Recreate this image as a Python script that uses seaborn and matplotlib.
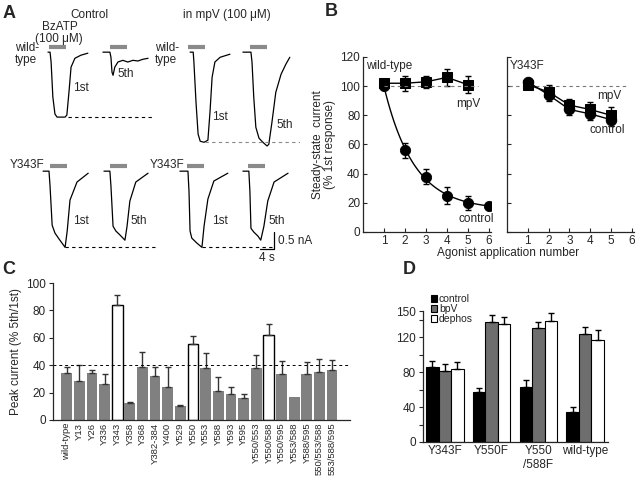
import numpy as np
import pandas as pd
import matplotlib
matplotlib.use("Agg")
import matplotlib.pyplot as plt
import seaborn as sns

# ---------------- data ----------------
# A: current traces, time (s) and current (nA) relative to trace start / baseline
wt_ctl_1st_t = [0, 0.6, 0.9, 1.4, 2.0, 2.6, 4.9, 5.4, 6.0, 6.6, 7.7, 9.4, 11.4]
wt_ctl_1st_i = [0, 0, -0.29, -1.32, -1.82, -1.91, -1.91, -1.85, -1.18, -0.44, -0.18, -0.09, -0.03]
wt_ctl_5th_t = [0, 2.0, 2.3, 2.6, 2.9, 3.4, 4.3, 5.7, 7.1, 8.6, 10.0, 11.4, 12.9]
wt_ctl_5th_i = [0, 0, -0.15, -0.59, -0.68, -0.44, -0.29, -0.24, -0.29, -0.24, -0.26, -0.21, -0.18]
wt_mpv_1st_t = [0, 0.9, 1.1, 1.7, 2.3, 2.9, 4.0, 5.1, 5.7, 6.3, 7.1, 8.6, 11.4]
wt_mpv_1st_i = [0, 0, -0.29, -1.47, -2.41, -2.62, -2.65, -2.59, -1.76, -0.74, -0.29, -0.15, -0.06]
wt_mpv_5th_t = [0, 2.3, 2.6, 3.1, 3.7, 4.6, 5.7, 6.9, 7.4, 8.3, 9.4, 10.9, 12.3, 13.4]
wt_mpv_5th_i = [0, 0, -0.29, -1.32, -2.21, -2.53, -2.65, -2.76, -2.71, -2.06, -1.18, -0.65, -0.35, -0.15]
y343_ctl_1st_t = [0, 1.7, 2.0, 2.6, 3.4, 4.6, 6.3, 6.9, 7.7, 9.7, 12.9]
y343_ctl_1st_i = [0, 0, -0.44, -1.59, -1.82, -2.0, -2.24, -1.76, -0.85, -0.32, -0.06]
y343_ctl_5th_t = [0, 1.7, 2.0, 2.6, 3.4, 4.6, 6.0, 6.6, 7.4, 9.1, 12.6]
y343_ctl_5th_i = [0, 0, -0.44, -1.62, -1.76, -1.88, -2.03, -1.62, -0.88, -0.32, -0.06]
y343_mpv_1st_t = [0, 2.3, 2.6, 2.9, 3.4, 4.9, 6.3, 6.9, 8.0, 9.7, 13.7]
y343_mpv_1st_i = [0, 0, -0.59, -1.76, -1.97, -2.12, -2.24, -1.62, -0.82, -0.29, -0.06]
y343_mpv_5th_t = [0, 1.7, 2.0, 2.3, 3.1, 4.3, 5.1, 6.0, 7.1, 8.9, 12.9]
y343_mpv_5th_i = [0, 0, -0.59, -1.68, -1.79, -1.91, -2.03, -1.62, -0.88, -0.32, -0.06]
agonist_on = [0.3, 2.0, -0.6, 2.0, 2.0, 1.7, 2.0, 1.4]   # s, per trace
agonist_dur = 4.9

# B: steady-state current (% 1st response)
app_num = [1, 2, 3, 4, 5, 6]
wt_mpv = [102, 102, 103, 106, 101]
wt_mpv_err = [3, 5, 4, 6, 6]
wt_ctl = [100, 56, 38, 25, 20, 18]
wt_ctl_err = [2, 5, 5, 6, 5, 1]
y343_mpv = [101, 96, 87, 84, 80]
y343_mpv_err = [3, 5, 4, 5, 6]
y343_ctl = [103, 94, 84, 81, 77]
y343_ctl_err = [2, 4, 4, 4, 4]

# C: peak current (% 5th/1st)
c_labels = ["wild-type", "Y13", "Y26", "Y336", "Y343", "Y358", "Y368", "Y382-384",
            "Y400", "Y529", "Y550", "Y553", "Y588", "Y593", "Y595", "Y550/553",
            "Y550/588", "Y550/595", "Y553/588", "Y588/595", "550/553/588", "553/588/595"]
c_values = [34.1, 28.5, 34.1, 26.1, 83.9, 12.7, 38.5, 32.2, 24.4, 10.2, 55.4, 38.0,
            21.2, 18.8, 16.1, 38.3, 62.0, 33.9, 16.8, 33.4, 35.1, 36.3]
c_err = [4.4, 12.0, 2.7, 7.3, 7.3, 0.7, 11.0, 6.8, 14.6, 0.5, 5.6, 11.0,
         10.0, 5.3, 3.2, 9.5, 7.8, 9.5, 0.0, 8.8, 9.3, 7.4]
c_open = ["Y343", "Y550", "Y550/588"]
c_wt_level = 40.5

# D: after bpV / dephosphorylation
d_groups = ["Y343F", "Y550F", "Y550\n/588F", "wild-type"]
d_treat = ["control", "bpV", "dephos"]
d_control = [86, 57, 63, 34]
d_bpv = [81, 137, 130, 124]
d_dephos = [84, 135, 139, 117]
d_control_err = [7, 5, 8, 6]
d_bpv_err = [8, 8, 7, 8]
d_dephos_err = [8, 8, 9, 11]

# ---------------- style ----------------
sns.set_style("ticks")
plt.rcParams['font.family'] = ['Liberation Sans', 'DejaVu Sans']
plt.rcParams['axes.linewidth'] = 0.9

fig = plt.figure(figsize=(6.42, 4.79), dpi=100)


def fx(px):
    return px / 642


def fy(py):
    return 1 - py / 479


def box(x0, y0, x1, y1):
    return [fx(x0), fy(y1), (x1 - x0) / 642, (y1 - y0) / 479]


FS = 8.5

# ---------------- A ----------------
axa = fig.add_axes(box(0, 30, 300, 265))
axa.set_xlim(0, 300 / 3.5)
axa.set_ylim(0, 235 / 34)
axa.axis("off")

traces = [(wt_ctl_1st_t, wt_ctl_1st_i), (wt_ctl_5th_t, wt_ctl_5th_i),
          (wt_mpv_1st_t, wt_mpv_1st_i), (wt_mpv_5th_t, wt_mpv_5th_i),
          (y343_ctl_1st_t, y343_ctl_1st_i), (y343_ctl_5th_t, y343_ctl_5th_i),
          (y343_mpv_1st_t, y343_mpv_1st_i), (y343_mpv_5th_t, y343_mpv_5th_i)]
t_start = [13.7, 29.4, 54.3, 69.4, 12.3, 29.7, 51.4, 69.4]
base = [6.26, 6.26, 6.26, 6.26, 2.76, 2.76, 2.76, 2.76]

for k, (t, i) in enumerate(traces):
    sns.lineplot(x=np.array(t) + t_start[k], y=np.array(i) + base[k], ax=axa,
                 color="black", lw=0.9, sort=False, estimator=None)
    on = t_start[k] + agonist_on[k]
    axa.plot([on, on + agonist_dur], [base[k] + 0.16] * 2, color="#8a8a8a",
             lw=3, solid_capstyle="butt")

# dashed lines at peak of the 1st response
dash = [(0, 19.4, 43.4, "black"), (2, 58.6, 85.7, "#888888"),
        (4, 18.6, 44.9, "black"), (6, 57.7, 78.6, "black")]
for k, x0, x1, col in dash:
    axa.hlines(base[k] + min(traces[k][1]), x0, x1, colors=col, lw=0.8,
               linestyles=(0, (3, 3)))

# scale bar
axa.plot([74.3, 78.3, 78.3], [0.47, 0.47, 0.97], color="black", lw=0.9)
axa.text(79.4, 0.72, "0.5 nA", fontsize=FS, va="center", ha="left")
axa.text(76.3, 0.22, "4 s", fontsize=FS, va="center", ha="center")

fig.text(fx(3), fy(13), "A", fontsize=13, weight="bold", va="center")
fig.text(fx(89), fy(15), "Control", fontsize=FS, ha="center", va="center")
fig.text(fx(227), fy(15), "in mpV (100 μM)", fontsize=FS, ha="center", va="center")
fig.text(fx(60), fy(27), "BzATP", fontsize=FS, ha="center", va="center")
fig.text(fx(59), fy(39), "(100 μM)", fontsize=FS, ha="center", va="center")
for x in (15, 155):
    fig.text(fx(x), fy(54), "wild-\ntype", fontsize=FS, ha="left", va="center",
             linespacing=0.95)
    fig.text(fx(x - 5), fy(165), "Y343F", fontsize=FS, ha="left", va="center")
for x, y, s in [(73, 88, "1st"), (117, 74, "5th"), (212, 117, "1st"), (276, 125, "5th"),
                (73, 221, "1st"), (130, 221, "5th"), (212, 221, "1st"), (268, 221, "5th")]:
    fig.text(fx(x), fy(y), s, fontsize=FS, ha="left", va="center")

# ---------------- B ----------------
axb1 = fig.add_axes(box(363, 57, 491, 232))
axb2 = fig.add_axes(box(507, 57, 634, 232))
for ax in (axb1, axb2):
    ax.set_xlim(0, 6.1)
    ax.set_ylim(0, 120)
    ax.set_xticks(app_num)
    ax.set_yticks(range(0, 121, 20))
    ax.tick_params(direction="in", length=3, labelsize=FS, pad=2)
    sns.despine(ax=ax)

# wild-type, mpV
sns.lineplot(x=app_num[:5], y=wt_mpv, ax=axb1, color="black", lw=1,
             marker="s", markersize=7.5, markeredgecolor="black")
axb1.errorbar(app_num[:5], wt_mpv, yerr=wt_mpv_err, fmt="none", ecolor="black",
              elinewidth=1, capsize=2)
# wild-type, control + exponential fit
axb1.errorbar(app_num, wt_ctl, yerr=wt_ctl_err, fmt="none", ecolor="black",
              elinewidth=1, capsize=2)
sns.scatterplot(x=app_num, y=wt_ctl, ax=axb1, color="black", s=55, marker="o",
                edgecolor="black")
xa = np.array(app_num, float)
ya = np.array(wt_ctl, float)
best = None
for kk in np.linspace(0.2, 2.0, 181):
    A = np.column_stack([np.exp(-kk * (xa - 1)), np.ones_like(xa)])
    coef, res, *_ = np.linalg.lstsq(A, ya, rcond=None)
    r = np.sum((A @ coef - ya) ** 2)
    if best is None or r < best[0]:
        best = (r, kk, coef)
_, kfit, cfit = best
xf = np.linspace(1, 6, 100)
sns.lineplot(x=xf, y=cfit[0] * np.exp(-kfit * (xf - 1)) + cfit[1], ax=axb1,
             color="black", lw=1)
axb1.hlines(100, 1, 5.5, colors="#777777", lw=0.8, linestyles=(0, (3, 3)))
axb1.text(0.15, 118, "wild-type", fontsize=FS, va="top", ha="left")
axb1.text(5.0, 88, "mpV", fontsize=FS, va="center", ha="center")
axb1.text(5.4, 9, "control", fontsize=FS, va="center", ha="center")
axb1.set_ylabel("Steady-state  current\n(% 1st response)", fontsize=FS, labelpad=3,
                linespacing=1.0)

# Y343F
axb2.hlines(100, 0.1, 5.7, colors="#777777", lw=0.8, linestyles=(0, (3, 3)))
for vals, errs, mk in [(y343_ctl, y343_ctl_err, "o"), (y343_mpv, y343_mpv_err, "s")]:
    axb2.errorbar(app_num[:5], vals, yerr=errs, fmt="none", ecolor="black",
                  elinewidth=1, capsize=2)
    sns.lineplot(x=app_num[:5], y=vals, ax=axb2, color="black", lw=1,
                 marker=mk, markersize=7.5, markeredgecolor="black")
axb2.set_yticklabels([])
axb2.text(0.15, 118, "Y343F", fontsize=FS, va="top", ha="left")
axb2.text(4.9, 93, "mpV", fontsize=FS, va="center", ha="center")
axb2.text(4.8, 70, "control", fontsize=FS, va="center", ha="center")

fig.text(fx(508), fy(253), "Agonist application number", fontsize=FS,
         ha="center", va="center")
fig.text(fx(325), fy(12), "B", fontsize=13, weight="bold", va="center")

# ---------------- C ----------------
axc = fig.add_axes(box(52.7, 283, 350.4, 420))
dfc = pd.DataFrame({"mutant": c_labels, "value": c_values})
c_pal = {m: ("white" if m in c_open else "#808080") for m in c_labels}
sns.barplot(data=dfc, x="mutant", y="value", hue="mutant", palette=c_pal,
            legend=False, width=0.85, ax=axc, linewidth=0, saturation=1)
for patch, m in zip(axc.patches, c_labels):
    if m in c_open:
        patch.set_edgecolor("black")
        patch.set_linewidth(1.0)
xc = np.arange(len(c_labels))
ce = np.array(c_err, float)
mask = ce > 0
axc.errorbar(xc[mask], np.array(c_values)[mask],
             yerr=[np.zeros(mask.sum()), ce[mask]], fmt="none",
             ecolor="#333333", elinewidth=1, capsize=2)
axc.axhline(c_wt_level, color="black", lw=0.7, ls=(0, (3, 3)))
axc.set_xlim(-1.1, 22.45)
axc.set_ylim(0, 100)
axc.set_yticks(range(0, 101, 20))
axc.tick_params(axis="y", direction="out", length=3, labelsize=FS, pad=2)
axc.tick_params(axis="x", length=0, labelsize=6.8, pad=2, rotation=90)
axc.set_xlabel("")
axc.set_ylabel("Peak current (% 5th/1st)", fontsize=FS, labelpad=3)
sns.despine(ax=axc)
fig.text(fx(2), fy(270), "C", fontsize=13, weight="bold", va="center")

# ---------------- D ----------------
axd = fig.add_axes(box(423, 311, 608, 442))
dfd = pd.DataFrame({
    "mutant": d_groups * 3,
    "treatment": np.repeat(d_treat, len(d_groups)),
    "value": d_control + d_bpv + d_dephos,
})
d_pal = {"control": "black", "bpV": "#6e6e6e", "dephos": "white"}
sns.barplot(data=dfd, x="mutant", y="value", hue="treatment", palette=d_pal,
            width=0.8, ax=axd, edgecolor="black", linewidth=0.8, saturation=1)
for j, errs in enumerate([d_control_err, d_bpv_err, d_dephos_err]):
    vals = [d_control, d_bpv, d_dephos][j]
    xs = np.arange(len(d_groups)) + (j - 1) * 0.8 / 3
    axd.errorbar(xs, vals, yerr=[np.zeros(len(errs)), errs], fmt="none",
                 ecolor="black", elinewidth=1, capsize=2)
axd.set_xlim(-0.47, 3.49)
axd.set_ylim(0, 150)
axd.set_yticks([0, 20, 40, 60, 80, 100, 120, 140, 150])
axd.set_yticklabels(["0", "", "40", "", "80", "", "120", "", "150"])
axd.tick_params(axis="y", direction="out", length=3, labelsize=FS, pad=2)
axd.tick_params(axis="x", length=0, labelsize=FS, pad=2)
axd.set_xlabel("")
axd.set_ylabel("")
sns.despine(ax=axd)
h, l = axd.get_legend_handles_labels()
axd.legend(h, l, loc="upper left", bbox_to_anchor=(fx(431), fy(294)),
           bbox_transform=fig.transFigure, frameon=False, fontsize=7.5,
           handlelength=0.6, handleheight=0.6, handletextpad=0.15,
           labelspacing=0.0, borderpad=0, borderaxespad=0)
fig.text(fx(403), fy(270), "D", fontsize=13, weight="bold", va="center")

fig.savefig("out.png", dpi=100)
